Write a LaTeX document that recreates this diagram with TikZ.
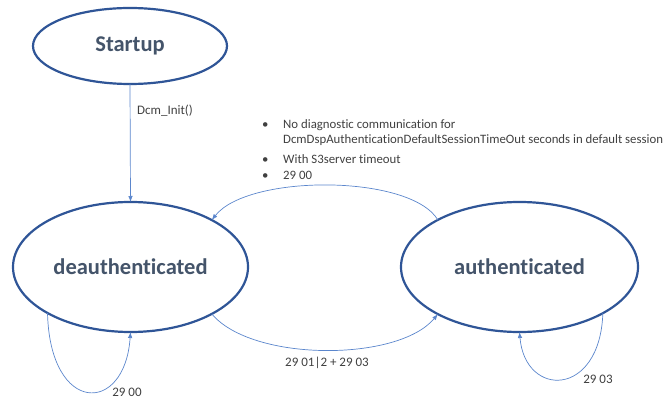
\documentclass[tikz,border=0pt]{standalone}
\usepackage{fontspec}
\setmainfont{Carlito}[RawFeature={-liga;-clig;-dlig}]
\usetikzlibrary{shapes.geometric,arrows.meta}
\definecolor{stateline}{HTML}{2F5597}
\definecolor{conn}{HTML}{5B86CC}
\definecolor{statetext}{HTML}{44546A}
\definecolor{labeltext}{HTML}{404040}
\tikzset{
  state/.style={ellipse, draw=stateline, line width=2.2pt, fill=white, inner sep=0pt, outer sep=0pt,
    text=statetext, font=\fontsize{22.5}{27}\selectfont\bfseries},
  conn/.style={draw=conn, line width=0.7pt, -{Latex[length=6pt,width=4.5pt]}},
  lbl/.style={text=labeltext, font=\fontsize{13}{15}\selectfont, inner sep=0pt}
}
\begin{document}
\begin{tikzpicture}[x=1pt,y=-1pt]
\useasboundingbox (0,0) rectangle (666,398);
\node[state, minimum width=194pt, minimum height=76pt] (startup) at (130,46) {Startup};
\node[state, minimum width=235pt, minimum height=130pt] (deauth) at (130.5,267) {deauthenticated};
\node[state, minimum width=237pt, minimum height=130pt] (auth) at (519.5,267) {authenticated};

\draw[conn] (startup.south) -- (deauth.north);
\node[lbl, anchor=west] (initlbl) at (137,111) {Dcm\_Init()};

\draw[conn] (auth.150) .. controls (410,174) and (248,174) .. (deauth.30);
\node[lbl, anchor=north west, font=\fontsize{12.8}{15.5}\selectfont, inner sep=0pt] (cond) at (262,117) {%
\begin{tabular}{@{}p{21pt}@{}l@{}}
\textbullet & No diagnostic communication for\\
 & DcmDspAuthenticationDefaultSessionTimeOut seconds in default session\\[4.5pt]
\textbullet & With S3server timeout\\[0.5pt]
\textbullet & 29 00
\end{tabular}};

\draw[conn] (deauth.-30) .. controls (252,362) and (398,362) .. (auth.210);
\node[lbl] (lbl2) at (327,363) {29 01|2 + 29 03};

\draw[conn] (deauth.209) .. controls (50,415) and (125,415) .. (deauth.south);
\node[lbl] (lbl3) at (127,392) {29 00};

\draw[conn] (auth.-29) .. controls (600,398) and (525,398) .. (auth.south);
\node[lbl] (lbl4) at (598,379) {29 03};
\end{tikzpicture}
\end{document}
